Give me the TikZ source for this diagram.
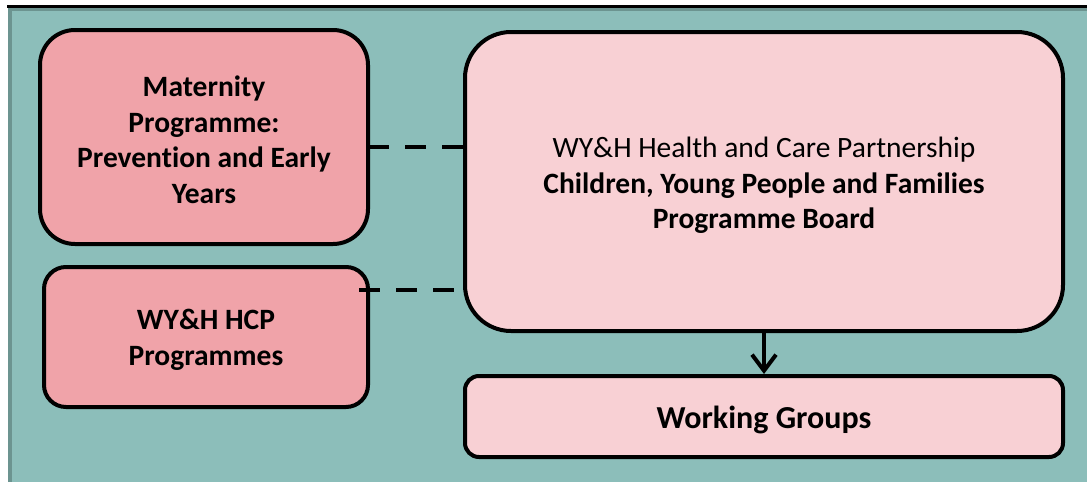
\documentclass[tikz,border=0pt]{standalone}
\usepackage{fontspec}
\setmainfont[RawFeature=-liga]{Carlito}
\usetikzlibrary{arrows.meta}
\definecolor{bgteal}{RGB}{140,190,186}
\definecolor{edgeteal}{RGB}{108,148,144}
\definecolor{salmon}{RGB}{240,163,169}
\definecolor{lightpink}{RGB}{248,208,212}
\begin{document}
\begin{tikzpicture}[x=1pt,y=-1pt,
  box/.style={draw=black, line width=4pt, inner sep=0pt, outer sep=0pt},
  boxtext/.style={inner sep=0pt, align=center, text=black, font=\fontsize{29.5}{35.5}\selectfont},
  dashlink/.style={line width=4pt, dash pattern=on 21pt off 16pt},
  arrowlink/.style={line width=4pt, -{Straight Barb[length=16pt,width=24pt]}, shorten >=2pt}
]
\useasboundingbox (0,0) rectangle (1087,482);
\fill[white] (0,0) rectangle (1087,482);
\fill[bgteal] (8,7) rectangle (1087,482);
\fill[edgeteal] (8,7) rectangle (12,482);
\fill[edgeteal] (8,7) rectangle (1087,11);
\fill[black] (7,5) rectangle (1087,8);

\node[box, fill=salmon, rounded corners=35pt, minimum width=328pt, minimum height=214pt] (mat) at (204,137) {};
\node[box, fill=salmon, rounded corners=22pt, minimum width=324pt, minimum height=140pt] (hcp) at (206,337) {};
\node[box, fill=lightpink, rounded corners=46pt, minimum width=598pt, minimum height=299pt] (board) at (764,181.5) {};
\node[box, fill=lightpink, rounded corners=14pt, minimum width=598pt, minimum height=81pt] (wg) at (764,416.5) {};

\node[boxtext, font=\fontsize{29.5}{35.5}\selectfont\bfseries] (matT) at ([yshift=-3pt]mat.center)
  {Maternity\\Programme:\\Prevention and Early\\Years};
\node[boxtext, font=\fontsize{29.5}{35.5}\selectfont\bfseries] (hcpT) at ([yshift=-3pt]hcp.center)
  {WY\&H HCP\\Programmes};
\node[boxtext] (boardT) at ([yshift=-4pt]board.center)
  {WY\&H Health and Care Partnership\\\textbf{Children, Young People and Families}\\\textbf{Programme Board}};
\node[boxtext, font=\fontsize{32}{38}\selectfont\bfseries] (wgT) at ([yshift=-3pt]wg.center)
  {Working Groups};

\coordinate (d1) at ([yshift=-10pt]mat.east);
\coordinate (d2) at ([xshift=-9pt,yshift=47pt]hcp.east);
\draw[dashlink] (d1) -- (d1 -| board.west);
\draw[dashlink] (d2) -- (d2 -| board.west);
\draw[arrowlink] (board.south) -- (wg.north);
\end{tikzpicture}
\end{document}
